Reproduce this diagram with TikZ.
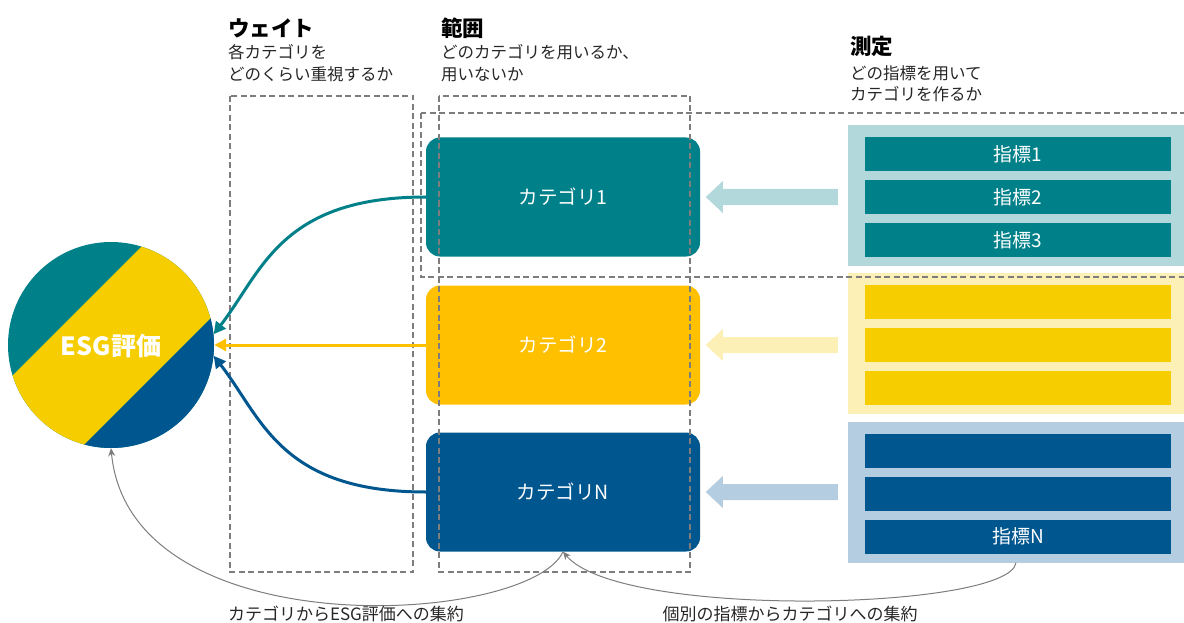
\documentclass[tikz,border=0pt]{standalone}
\usepackage{fontspec}
\setmainfont{Noto Sans CJK JP}
\usetikzlibrary{arrows.meta,calc}
\definecolor{cteal}{RGB}{0,128,137}
\definecolor{cyel}{RGB}{255,192,0}
\definecolor{cyel2}{RGB}{246,206,0}
\definecolor{cblue}{RGB}{0,87,143}
\definecolor{lteal}{RGB}{178,216,220}
\definecolor{lyel}{RGB}{252,240,182}
\definecolor{lblue}{RGB}{180,205,224}
\definecolor{dgray}{RGB}{125,125,125}
\tikzset{
  catbox/.style={rounded corners=14pt, minimum width=274pt, minimum height=119pt, inner sep=0pt, text=white, font=\fontsize{19.5}{22}\selectfont},
  panel/.style={minimum width=336pt, minimum height=141pt, inner sep=0pt},
  bar/.style={minimum width=306pt, minimum height=34pt, inner sep=0pt, text=white, font=\fontsize{19}{22}\selectfont},
  heading/.style={anchor=base west, inner sep=0pt, font=\fontsize{21.5}{24}\selectfont\bfseries},
  body/.style={anchor=base west, inner sep=0pt, font=\fontsize{16.5}{22}\selectfont, text=black!85},
  note/.style={anchor=base, inner sep=0pt, font=\fontsize{17}{22}\selectfont, text=black!85},
  dashbox/.style={draw=dgray, line width=1.3pt, dash pattern=on 6pt off 3.5pt},
  flow/.style={line width=3pt, -{Triangle[length=12pt,width=12pt]}},
  agg/.style={draw=dgray, line width=1pt, -{Stealth[length=8pt,width=7pt]}},
}
\begin{document}
\begin{tikzpicture}[x=1pt,y=-1pt]
\useasboundingbox (0,0) rectangle (1184,623);

% ESG circle with stripes
\node[circle, minimum size=206pt, inner sep=0pt] (esg) at (111,345) {};
\begin{scope}
  \clip (111,345) circle (103pt);
  \fill[cteal] (0,230) rectangle (230,460);
  \fill[cyel2] (-100,488) -- (488,-100) -- (629,-100) -- (-100,629) -- cycle;
  \fill[cblue] (629,-100) -- (800,-100) -- (800,800) -- (-100,800) -- (-100,629) -- cycle;
\end{scope}
\node[text=white, font=\fontsize{25}{28}\selectfont\bfseries] (esgt) at (111,346) {ESG評価};

% headings
\node[heading] (h1) at (228,37) {ウェイト};
\node[body] (h1a) at (228,59) {各カテゴリを};
\node[body] (h1b) at (228,81) {どのくらい重視するか};
\node[heading] (h2) at (441,37) {範囲};
\node[body] (h2a) at (441,59) {どのカテゴリを用いるか、};
\node[body] (h2b) at (441,81) {用いないか};
\node[heading] (h3) at (850,55) {測定};
\node[body] (h3a) at (850,80) {どの指標を用いて};
\node[body] (h3b) at (850,101) {カテゴリを作るか};

% category boxes
\node[catbox, fill=cteal] (c1) at (563,197) {カテゴリ1};
\node[catbox, fill=cyel] (c2) at (563,345) {カテゴリ2};
\node[catbox, fill=cblue] (c3) at (563,492) {カテゴリN};

% indicator panels
\node[panel, fill=lteal] (p1) at (1016,195.5) {};
\node[panel, fill=lyel] (p2) at (1016,343) {};
\node[panel, fill=lblue] (p3) at (1016,492) {};
\node[bar, fill=cteal] (i11) at (1018,154) {指標1};
\node[bar, fill=cteal] (i12) at (1018,197) {指標2};
\node[bar, fill=cteal] (i13) at (1018,240) {指標3};
\node[bar, fill=cyel2] (i21) at (1018,302) {};
\node[bar, fill=cyel2] (i22) at (1018,344.5) {};
\node[bar, fill=cyel2] (i23) at (1018,387.5) {};
\node[bar, fill=cblue] (i31) at (1018,450.5) {};
\node[bar, fill=cblue] (i32) at (1018,493.5) {};
\node[bar, fill=cblue] (i33) at (1018,536.5) {指標N};

% block arrows
\foreach \p/\c/\col in {p1/c1/lteal, p2/c2/lyel, p3/c3/lblue}{
  \coordinate (s) at ([xshift=-10pt]\p.west |- \c.east);
  \fill[\col] (s) ++(0,-8) -- ++(-115,0) -- ++(0,-8) -- ++(-17,16) -- ++(17,16) -- ++(0,-8) -- ++(115,0) -- cycle;
}

% dashed frames
\draw[dashbox] (230,96) rectangle (413,572);
\draw[dashbox] (439,96) rectangle (690,572);
\draw[dashbox] (421,113) rectangle (1200,277);

% flows to ESG
\draw[flow, cteal] (c1.west) .. controls (280,197) and (262,272) .. (esg.6);
\draw[flow, cyel] (c2.west) -- (esg.east);
\draw[flow, cblue] (c3.west) .. controls (280,492) and (262,418) .. (esg.-6);

% aggregation arrows
\draw[agg] (c3.south) .. controls (530,625) and (130,650) .. (esg.south);
\draw[agg] (p3.south) .. controls (1010,610) and (620,620) .. (c3.south);
\node[note] (n1) at (346,620) {カテゴリからESG評価への集約};
\node[note] (n2) at (790,620) {個別の指標からカテゴリへの集約};
\end{tikzpicture}
\end{document}
